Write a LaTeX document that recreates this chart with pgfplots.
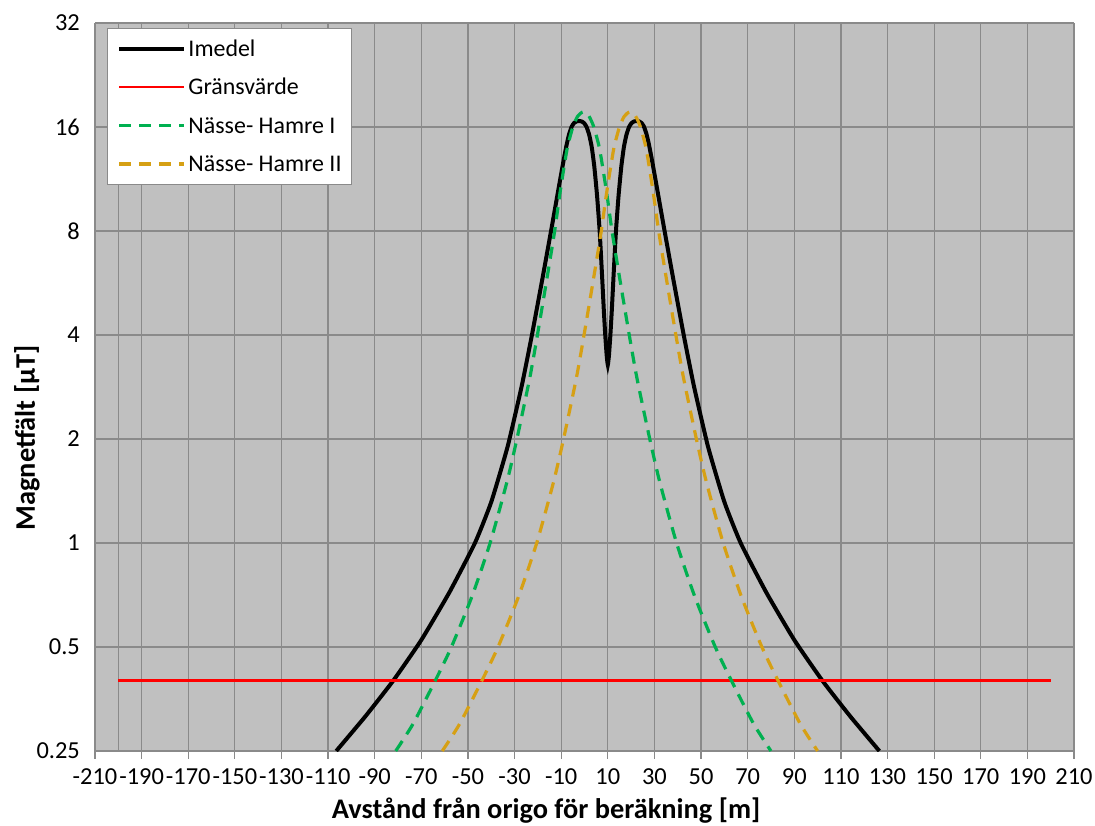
\documentclass[border=0pt]{standalone}
\usepackage{pgfplots}
\pgfplotsset{compat=1.18}
\usepackage{fontspec}
\setmainfont{Carlito}
\definecolor{bgc}{RGB}{192,192,192}
\definecolor{gridc}{RGB}{138,138,138}
\definecolor{gr}{RGB}{0,176,80}
\definecolor{og}{RGB}{214,160,20}
\begin{document}
\begin{tikzpicture}
\path[use as bounding box] (0,0) rectangle (1095bp,826bp);
\begin{axis}[
  at={(95bp,75bp)}, anchor=south west,
  scale only axis, width=979bp, height=728bp,
  xmin=-210, xmax=210, ymin=0.25, ymax=32,
  ymode=log, log basis y=2,
  xtick={-210,-190,-170,-150,-130,-110,-90,-70,-50,-30,-10,10,30,50,70,90,110,130,150,170,190,210},
  xticklabels={-210,-190,-170,-150,-130,-110,-90,-70,-50,-30,-10,10,30,50,70,90,110,130,150,170,190,210},
  ytick={0.25,0.5,1,2,4,8,16,32},
  yticklabels={0.25,0.5,1,2,4,8,16,32},
  extra x ticks={-200}, extra x tick labels={},
  extra x tick style={grid=major, major tick length=0pt},
  grid=major,
  major grid style={draw=gridc, line width=1.2bp},
  axis background/.style={fill=bgc},
  axis x line*=bottom, axis y line*=left,
  axis line style={draw=gridc, line width=1.2bp},
  x axis line style={-},
  y axis line style={-, draw=none},
  tick align=outside,
  xtick style={draw=gridc, line width=1.2bp},
  ytick style={draw=none},
  major tick length=8bp,
  xticklabel style={font=\fontsize{24.5}{28}\selectfont, anchor=north, inner sep=0pt, yshift=-9bp},
  yticklabel style={font=\fontsize{24.5}{28}\selectfont, anchor=east, inner sep=0pt, xshift=-7bp},
  xlabel={Avstånd från origo för beräkning [m]},
  ylabel={Magnetfält [µT]},
  xlabel style={font=\fontsize{28.5}{33}\selectfont\bfseries, at={(axis description cs:0.4607,-0.0934)}, anchor=base, inner sep=0pt},
  ylabel style={font=\fontsize{28.5}{33}\selectfont\bfseries, at={(axis description cs:-0.0695,0.43)}, anchor=center, inner sep=0pt},
  legend cell align=left,
  legend image code/.code={\draw[#1] (0bp,0bp) -- (65bp,0bp);},
  legend style={at={(axis description cs:0.01226,0.9931)}, anchor=north west,
    fill=white, draw=gridc, line width=1bp,
    inner xsep=10bp, inner ysep=8.5bp,
    font=\fontsize{24}{28}\selectfont,
    nodes={inner sep=0bp, text height=19bp, text depth=4bp},
    row sep=15.5bp,
    /tikz/every odd column/.append style={column sep=2bp}},
]
\addplot[black, line width=4bp, smooth, tension=0.3] coordinates {
(-106.5,0.25) (-94,0.315) (-82,0.4) (-70,0.524) (-58,0.719) (-47,1.0) (-40,1.315) (-33,1.90) (-27,2.834) (-22.7,3.956) (-18,5.85) (-14,8.25) (-11,10.74) (-9,12.77) (-7.7,14.18) (-6.6,15.26) (-5.5,16.04) (-4.5,16.43) (-3.5,16.6) (-2.3,16.66) (-1.2,16.6) (-0.1,16.4) (0.9,16.0) (2.0,15.2) (3.1,14.0) (4.2,12.3) (5.4,10.1) (6.5,8.0) (7.5,6.0) (8.3,4.7) (8.9,4.0) (9.5,3.5) (10,3.28)
(10.5,3.5) (11.1,4.0) (11.7,4.7) (12.5,6.0) (13.5,8.0) (14.6,10.1) (15.8,12.3) (16.9,14.0) (18,15.2) (19.1,16.0) (20.1,16.4) (21.2,16.6) (22.3,16.66) (23.5,16.6) (24.5,16.43) (25.5,16.04) (26.6,15.26) (27.7,14.18) (29,12.77) (31,10.74) (34,8.25) (38,5.85) (42.7,3.956) (47,2.834) (53,1.90) (60,1.315) (67,1.0) (78,0.719) (90,0.524) (102,0.4) (114,0.315) (126.5,0.25)
};
\addlegendentry{Imedel}
\addplot[red, line width=2.6bp] coordinates {(-200,0.4) (200,0.4)};
\addlegendentry{Gränsvärde}
\addplot[gr, line width=3.2bp, dash pattern=on 12bp off 8bp, smooth, tension=0.4] coordinates {
(-81,0.25) (-73.5,0.3) (-64,0.4) (-57.1,0.5) (-48.3,0.7) (-40.5,1) (-33.3,1.5) (-29,2) (-23.5,3) (-20.2,4) (-15.8,6) (-12.8,8) (-10.8,10) (-9,12) (-7.3,14) (-5,16) (-2.9,17.2) (-0.5,17.7)
(1.9,17.2) (4,16) (6.3,14) (8,12) (9.8,10) (11.8,8) (14.8,6) (19.2,4) (22.5,3) (28,2) (32.3,1.5) (39.5,1) (47.3,0.7) (56.1,0.5) (63,0.4) (72.5,0.3) (80,0.25)
};
\addlegendentry{Nässe- Hamre I}
\addplot[og, line width=3.2bp, dash pattern=on 12bp off 8bp, smooth, tension=0.4] coordinates {
(-61,0.25) (-53.5,0.3) (-44,0.4) (-37.1,0.5) (-28.3,0.7) (-20.5,1) (-13.3,1.5) (-9,2) (-3.5,3) (-0.2,4) (4.2,6) (7.2,8) (9.2,10) (11,12) (12.7,14) (15,16) (17.1,17.2) (19.5,17.7)
(21.9,17.2) (24,16) (26.3,14) (28,12) (29.8,10) (31.8,8) (34.8,6) (39.2,4) (42.5,3) (48,2) (52.3,1.5) (59.5,1) (67.3,0.7) (76.1,0.5) (83,0.4) (92.5,0.3) (100,0.25)
};
\addlegendentry{Nässe- Hamre II}
\end{axis}
\end{tikzpicture}
\end{document}
